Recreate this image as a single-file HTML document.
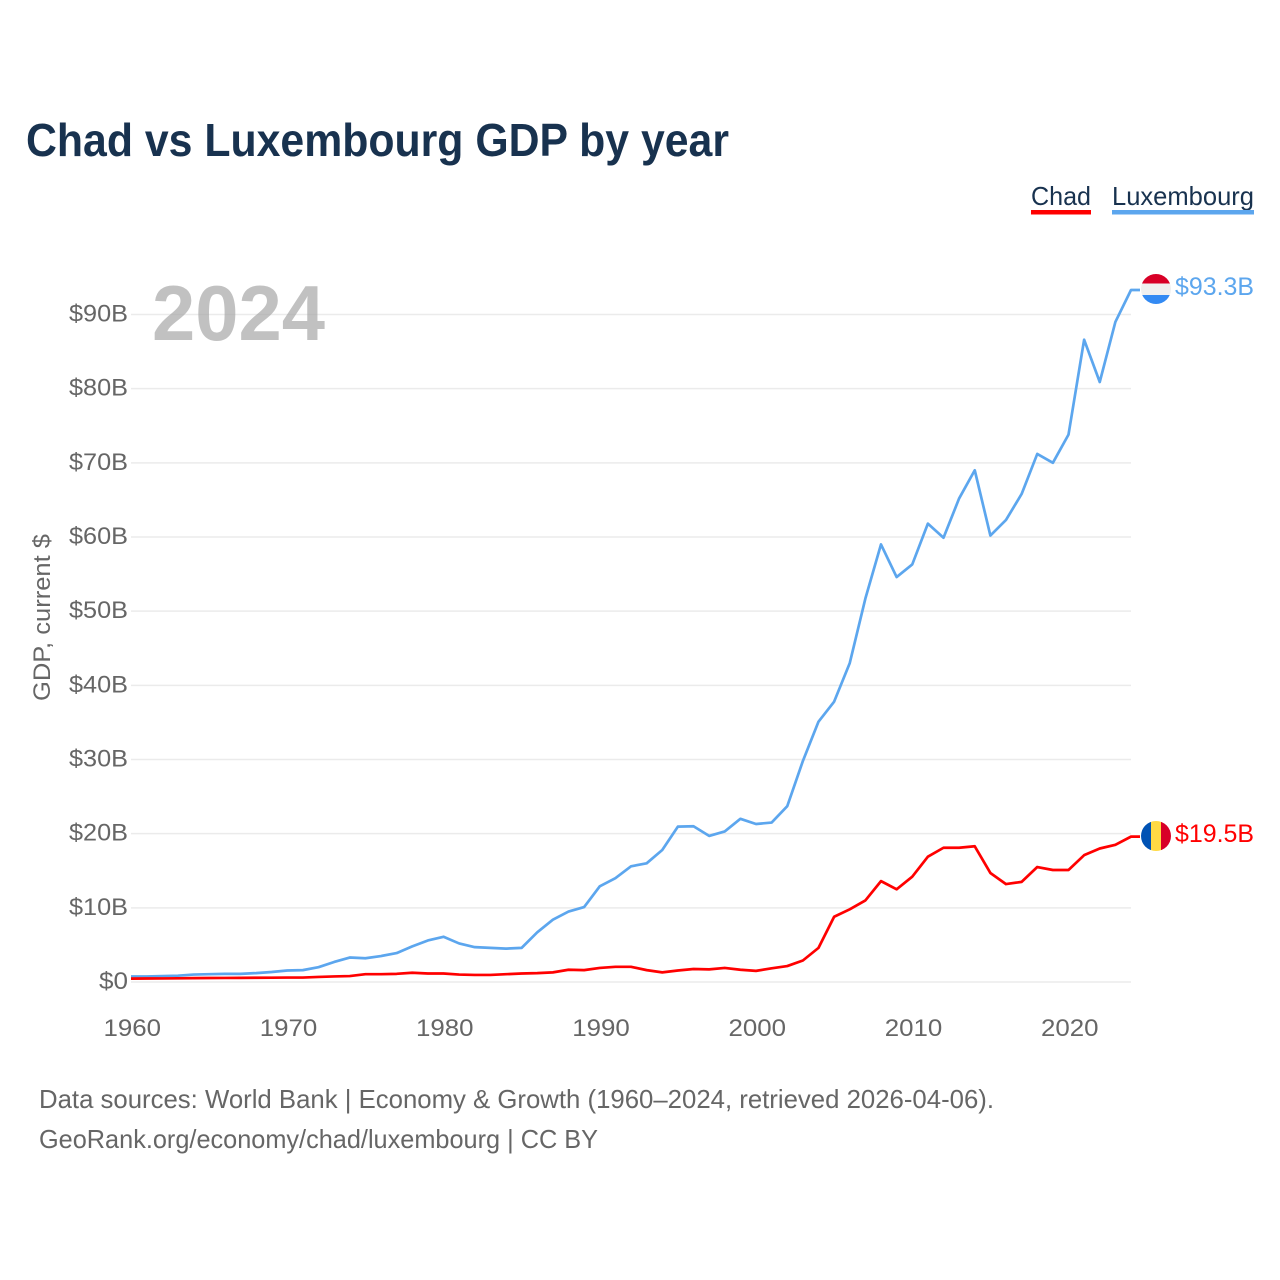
<!DOCTYPE html>
<html lang="en">
<head>
<meta charset="utf-8">
<title>Chad vs Luxembourg GDP by year</title>
<style>
html,body{margin:0;padding:0;background:#fff;width:1280px;height:1280px;overflow:hidden}
svg{display:block}
text{font-family:"Liberation Sans",sans-serif}
</style>
</head>
<body>
<svg id="chart" xmlns="http://www.w3.org/2000/svg" width="1280" height="1280" viewBox="0 0 1280 1280">
  <rect width="1280" height="1280" fill="#fff"/>
  <text x="26" y="156" font-size="46" font-weight="700" fill="#18324f" textLength="703" lengthAdjust="spacingAndGlyphs">Chad vs Luxembourg GDP by year</text>

  <g>
    <g>
      <text x="1031" y="205" font-size="26" fill="#18324f" textLength="60" lengthAdjust="spacingAndGlyphs">Chad</text>
      <rect x="1031" y="210" width="60" height="4.5" fill="#ff0000"/>
    </g>
    <g>
      <text x="1112" y="205" font-size="26" fill="#18324f" textLength="142" lengthAdjust="spacingAndGlyphs">Luxembourg</text>
      <rect x="1112" y="210" width="142" height="4.5" fill="#5ca6ee"/>
    </g>
  </g>

  <g id="grid"></g>
  <text x="152" y="340" font-size="78" font-weight="700" fill="#a6a6a6" fill-opacity="0.7" textLength="173" lengthAdjust="spacingAndGlyphs">2024</text>
  <g id="yticks"></g>
  <g id="xticks"></g>
  <text transform="translate(50,701) rotate(-90)" font-size="24" fill="#666" textLength="167" lengthAdjust="spacingAndGlyphs">GDP, current $</text>
  <g id="series"></g>

  <defs>
    <clipPath id="clip-lux"><circle cx="1156" cy="289" r="15"/></clipPath>
    <clipPath id="clip-chad"><circle cx="1156" cy="836" r="15"/></clipPath>
  </defs>
  <g id="flag-lux" clip-path="url(#clip-lux)">
    <rect x="1141" y="274" width="30" height="9.5" fill="#d80027"/>
    <rect x="1141" y="283.5" width="30" height="11.5" fill="#f0f0f0"/>
    <rect x="1141" y="295" width="30" height="9" fill="#338af3"/>
  </g>
  <g id="flag-chad" clip-path="url(#clip-chad)">
    <rect x="1141" y="821" width="10" height="30" fill="#0052b4"/>
    <rect x="1151" y="821" width="10" height="30" fill="#ffda44"/>
    <rect x="1161" y="821" width="10" height="30" fill="#d80027"/>
  </g>
  <text x="1175" y="295" font-size="25" fill="#5ca6ee" textLength="79" lengthAdjust="spacingAndGlyphs">$93.3B</text>
  <text x="1175" y="842" font-size="25" fill="#ff0000" textLength="79" lengthAdjust="spacingAndGlyphs">$19.5B</text>

  <text x="39" y="1108" font-size="26" fill="#666" textLength="955" lengthAdjust="spacingAndGlyphs">Data sources: World Bank | Economy &amp; Growth (1960–2024, retrieved 2026-04-06).</text>
  <text x="39" y="1148" font-size="26" fill="#666" textLength="559" lengthAdjust="spacingAndGlyphs">GeoRank.org/economy/chad/luxembourg | CC BY</text>
</svg>
<script>
const startYear = 1960;
const luxembourgGdp = [0.75,0.75,0.8,0.85,1.0,1.05,1.1,1.1,1.2,1.35,1.55,1.6,2.0,2.7,3.3,3.2,3.5,3.9,4.8,5.6,6.1,5.2,4.7,4.6,4.5,4.6,6.7,8.4,9.5,10.1,12.9,14.0,15.6,16.0,17.8,20.95,21.0,19.7,20.3,22.0,21.3,21.5,23.7,29.8,35.1,37.8,43.0,51.7,59.0,54.6,56.3,61.8,59.9,65.2,69.0,60.2,62.3,65.8,71.2,70.0,73.8,86.6,80.9,89.0,93.3];
const chadGdp = [0.45,0.47,0.48,0.5,0.52,0.54,0.55,0.56,0.57,0.58,0.6,0.6,0.68,0.75,0.8,1.05,1.05,1.1,1.25,1.15,1.15,1.0,0.95,0.95,1.05,1.15,1.2,1.3,1.65,1.6,1.9,2.05,2.05,1.6,1.3,1.55,1.75,1.7,1.9,1.65,1.5,1.85,2.15,2.9,4.6,8.8,9.8,11.0,13.6,12.5,14.2,16.9,18.1,18.1,18.3,14.7,13.2,13.5,15.5,15.1,15.1,17.1,18.0,18.5,19.6];
const yTickValues = [0,10,20,30,40,50,60,70,80,90];
const yTickLabels = ["$0","$10B","$20B","$30B","$40B","$50B","$60B","$70B","$80B","$90B"];
const xTickValues = [1960,1970,1980,1990,2000,2010,2020];
const xTickLabels = ["1960","1970","1980","1990","2000","2010","2020"];

const NS = "http://www.w3.org/2000/svg";
function xScale(year){ return 131 + (year - 1960) * 1000 / 64; }
function yScale(v){ return 982 - v * 667.5 / 90; }
function make(tag, attrs, parent){
  const el = document.createElementNS(NS, tag);
  for (const k in attrs) el.setAttribute(k, attrs[k]);
  parent.appendChild(el);
  return el;
}

const grid = document.getElementById("grid");
const yticks = document.getElementById("yticks");
const xticks = document.getElementById("xticks");
const seriesGroup = document.getElementById("series");

yTickValues.forEach(function(v, i){
  const y = yScale(v);
  const line = make("line", {x1:131, x2:1131, y1:y, y2:y, stroke:"#ebebeb", "stroke-width":1.5}, grid);
  
  
  const t = make("text", {x:128, y:y + 7, "text-anchor":"end", "font-size":24, fill:"#666"}, yticks);
  
  
  t.setAttribute('textLength', String(yTickLabels[i].length === 2 ? 29 : 59));
  t.setAttribute('lengthAdjust', 'spacingAndGlyphs');
  t.textContent = yTickLabels[i];
});

xTickValues.forEach(function(v, i){
  const t = make("text", {x:xScale(v) + 1.3, y:1036, "text-anchor":"middle", "font-size":24, fill:"#666"}, xticks);
  
  
  t.setAttribute('textLength', '57.5');
  t.setAttribute('lengthAdjust', 'spacingAndGlyphs');
  t.textContent = xTickLabels[i];
});

function drawSeries(values, color){
  const pts = values.map(function(v, i){ return xScale(startYear + i).toFixed(2) + "," + yScale(v).toFixed(2); });
  const lastY = yScale(values[values.length - 1]).toFixed(2);
  pts.push("1140," + lastY);
  return make("polyline", {points:pts.join(" "), fill:"none", stroke:color, "stroke-width":2.7, "stroke-linejoin":"round"}, seriesGroup);
}

const luxLine = drawSeries(luxembourgGdp, "#5ca6ee");


const chadLine = drawSeries(chadGdp, "#ff0000");


</script>
</body>
</html>
